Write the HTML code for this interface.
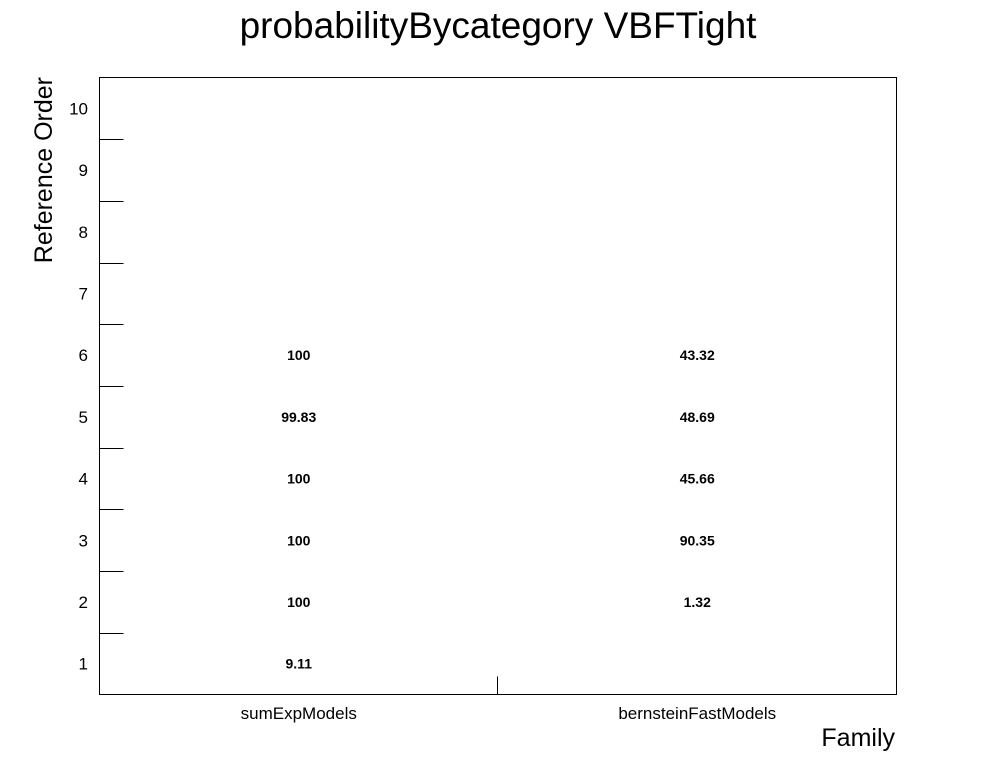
<!DOCTYPE html>
<html>
<head>
<meta charset="utf-8">
<style>
  html,body{margin:0;padding:0;background:#fff;}
  svg{display:block;font-family:"Liberation Sans",sans-serif;}
</style>
</head>
<body>
<svg id="chart" width="996" height="772" viewBox="0 0 996 772">
  <rect x="0" y="0" width="996" height="772" fill="#fff"/>
  <text x="498" y="38" font-size="37" text-anchor="middle" fill="#000">probabilityBycategory VBFTight</text>
  <rect x="99.5" y="77.5" width="797" height="617" fill="none" stroke="#000" stroke-width="1"/>
  <text transform="translate(52,77) rotate(-90)" font-size="25" text-anchor="end" fill="#000">Reference Order</text>
  <text x="895" y="746" font-size="25" text-anchor="end" fill="#000">Family</text>
  <g id="axes"></g>
  <g id="cells"></g>
</svg>
<script>
const categories = ["sumExpModels", "bernsteinFastModels"];
const yTickLabels = ["1","2","3","4","5","6","7","8","9","10"];
const sumExpValues = [9.11, 100, 100, 100, 99.83, 100, null, null, null, null];
const bernsteinValues = [null, 1.32, 90.35, 45.66, 48.69, 43.32, null, null, null, null];

const NS = "http://www.w3.org/2000/svg";
const X0 = 99.5, X1 = 896.5, Y0 = 694.5, Y1 = 77.5;
const nY = yTickLabels.length, nX = categories.length;
function xPos(i){ return X0 + (i + 0.5) * (X1 - X0) / nX; }
function xEdge(i){ return X0 + i * (X1 - X0) / nX; }
function yPos(i){ return Y0 - (i + 0.5) * (Y0 - Y1) / nY; }
function yEdge(i){ return Y0 - i * (Y0 - Y1) / nY; }

const axes = document.getElementById("axes");
const cells = document.getElementById("cells");
function mk(tag, attrs, parent){
  const e = document.createElementNS(NS, tag);
  for (const k in attrs) e.setAttribute(k, attrs[k]);
  parent.appendChild(e);
  return e;
}

yTickLabels.forEach((lab, i) => {
  const t = mk("text", {x: 88, y: yPos(i) + 6, "font-size": 17, "text-anchor": "end", fill: "#000"}, axes);
  t.textContent = lab;
  
  
  if (i > 0) {
    const l = mk("line", {x1: X0, x2: X0 + 24, y1: Math.round(yEdge(i)) + 0.5, y2: Math.round(yEdge(i)) + 0.5, stroke: "#000", "stroke-width": 1}, axes);
    
    
  }
});

categories.forEach((c, i) => {
  const t = mk("text", {x: xPos(i), y: 719, "font-size": 17, "text-anchor": "middle", fill: "#000"}, axes);
  t.textContent = c;
  
  
  if (i > 0) {
    const l = mk("line", {x1: Math.round(xEdge(i)) - 0.5, x2: Math.round(xEdge(i)) - 0.5, y1: Y0, y2: Y0 - 18, stroke: "#000", "stroke-width": 1}, axes);
    
    
  }
});

[sumExpValues, bernsteinValues].forEach((series, xi) => {
  series.forEach((v, yi) => {
    if (v === null || v === undefined) return;
    const t = mk("text", {x: xPos(xi), y: yPos(yi) + 5, "font-size": 14, "font-weight": "bold", "text-anchor": "middle", fill: "#000"}, cells);
    t.textContent = String(v);
    
    
  });
});
</script>
</body>
</html>
